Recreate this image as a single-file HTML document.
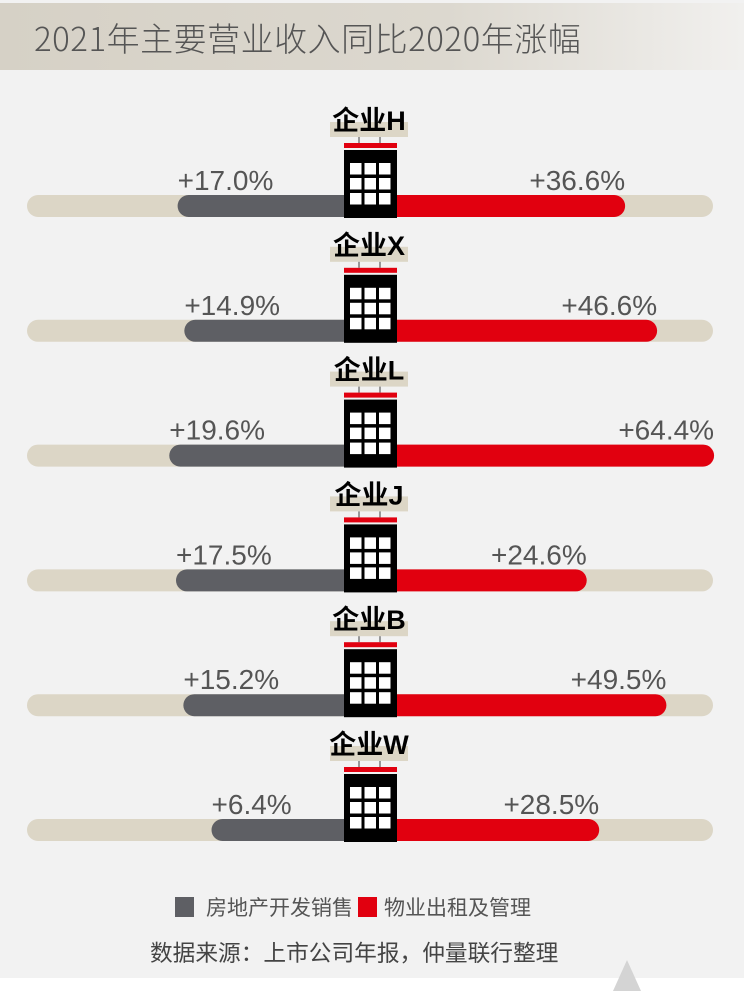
<!DOCTYPE html>
<html><head><meta charset="utf-8"><style>
body{margin:0;width:744px;height:991px;background:#fff;font-family:"Liberation Sans","Noto Sans CJK SC",sans-serif;overflow:hidden}
#main{position:absolute;left:0;top:0;width:744px;height:978px;background:#f2f2f2}
#hdr{position:absolute;left:0;top:3px;width:744px;height:67px;background:linear-gradient(90deg,#d6d1c6 0%,#dcd8cf 60%,#f1f0ee 100%)}
#title{position:absolute;left:34px;top:10px;font-size:33px;color:#555;font-family:"Noto Sans CJK SC",sans-serif;font-weight:300;letter-spacing:0.5px;white-space:nowrap}
</style></head><body>
<div id="main"></div>
<div id="hdr"><div id="title">2021年主要营业收入同比2020年涨幅</div></div>
<svg id="chart" width="744" height="991" style="position:absolute;left:0;top:0"></svg>
<script>
const companies=["企业H","企业X","企业L","企业J","企业B","企业W"];
const devSales=[17.0,14.9,19.6,17.5,15.2,6.4];
const propMgmt=[36.6,46.6,64.4,24.6,49.5,28.5];
const legendLabels=["房地产开发销售","物业出租及管理"];
const NS="http://www.w3.org/2000/svg";
const svg=document.getElementById('chart');
const cx=370, base=138, k=3.2;
function len(v){return base+k*v;}
function rowY(i){return 206+i*124.8;}
function mk(tag,attrs,parent){const e=document.createElementNS(NS,tag);for(const a in attrs)e.setAttribute(a,attrs[a]);(parent||svg).appendChild(e);return e;}
companies.forEach((name,i)=>{
  const y=rowY(i);
  const g=mk('g',{});
  
  
  const tr=mk('rect',{x:27,y:y-11,width:686,height:22,rx:11,fill:'#dcd6c6'},g);
  
  
  const lx=cx-len(devSales[i]);
  const lb=mk('rect',{x:lx,y:y-11,width:cx-lx+11,height:22,rx:11,fill:'#5e5f64'},g);
  
  
  const rx=cx+len(propMgmt[i]);
  const rb=mk('rect',{x:cx-11,y:y-11,width:rx-cx+11,height:22,rx:11,fill:'#e1000f'},g);
  
  
  const lt=mk('text',{x:lx,y:y-16,'font-size':28,fill:'#555','font-family':'Liberation Sans,sans-serif'},g);
  lt.textContent='+'+devSales[i].toFixed(1)+'%';
  
  
  const rt=mk('text',{x:rx,y:y-16,'font-size':28,fill:'#555','text-anchor':'end','font-family':'Liberation Sans,sans-serif'},g);
  rt.textContent='+'+propMgmt[i].toFixed(1)+'%';
  
  
  const b=mk('g',{},g);
  
  
  mk('rect',{x:330,y:y-84,width:78,height:15,fill:'#dcd6c6'},b);
  mk('rect',{x:358,y:y-69,width:2,height:6,fill:'#999'},b);
  mk('rect',{x:379,y:y-69,width:2,height:6,fill:'#999'},b);
  mk('rect',{x:344,y:y-63,width:53,height:5,fill:'#e1000f'},b);
  mk('rect',{x:344,y:y-56,width:53,height:68,fill:'#000'},b);
  for(let r=0;r<3;r++)for(let c=0;c<3;c++)mk('rect',{x:350+c*14.5,y:y-43+r*15,width:11.5,height:11.5,fill:'#fff'},b);
  const nt=mk('text',{x:369,y:y-76,'font-size':27,'font-weight':'bold',fill:'#000','text-anchor':'middle','font-family':'Liberation Sans,Noto Sans CJK SC,sans-serif'},g);
  nt.textContent=name;
  
  
});
const l1=mk('rect',{x:175,y:897,width:19,height:20,fill:'#5e5f64'});


const lt1=mk('text',{x:206,y:915,'font-size':21,fill:'#555','font-family':'Noto Sans CJK SC,sans-serif'});
lt1.textContent=legendLabels[0];


const l2=mk('rect',{x:358,y:897,width:19,height:20,fill:'#e1000f'});


const lt2=mk('text',{x:384,y:915,'font-size':21,fill:'#555','font-family':'Noto Sans CJK SC,sans-serif'});
lt2.textContent=legendLabels[1];


const src=mk('text',{x:150,y:961,'font-size':22.7,fill:'#444','font-family':'Noto Sans CJK SC,sans-serif'});
src.textContent='数据来源：上市公司年报，仲量联行整理';


const tri=mk('polygon',{points:'613,991 627,960 641,991',fill:'#d4d4d4'});


</script>
</body></html>
